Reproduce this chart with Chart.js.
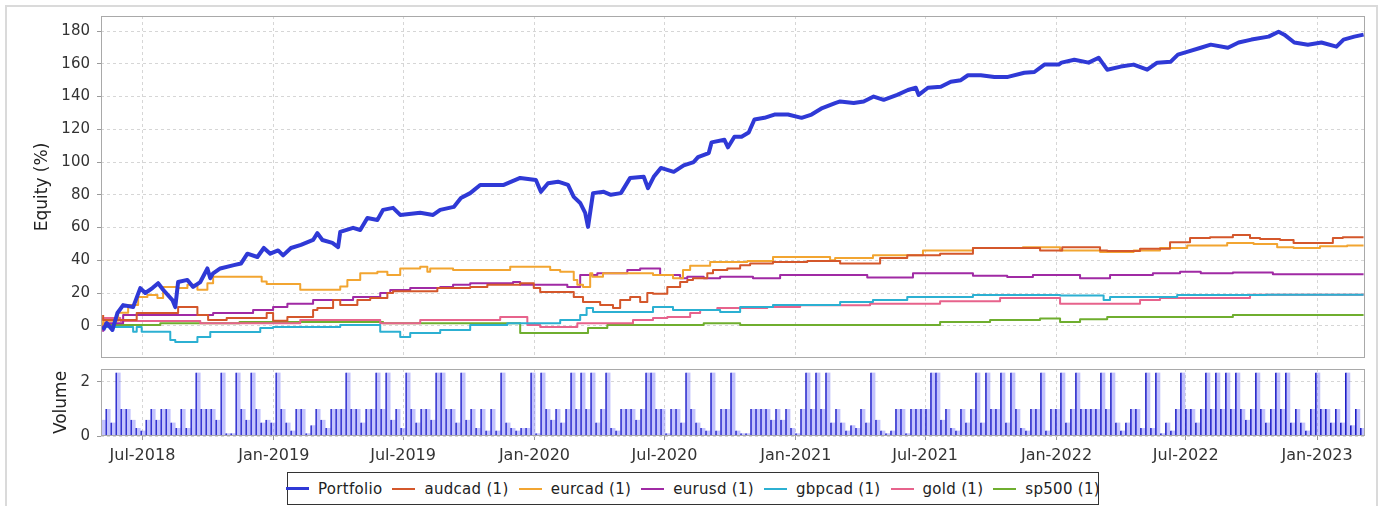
<!DOCTYPE html>
<html>
<head>
<meta charset="utf-8">
<title>Equity</title>
<script src="https://cdn.jsdelivr.net/npm/chart.js@4.4.0/dist/chart.umd.min.js"></script>
<style>
    html, body { margin: 0; padding: 0; background: #fff; overflow: hidden; }
    #frame { position: absolute; left: 5px; top: 5px; width: 1373px; height: 530px; border: 2px solid #dadada; box-sizing: border-box; }
    #equityChart { position: absolute; left: 0; top: 0; }
    #volumeChart { position: absolute; left: 0; top: 362px; }
    #legend {
        position: absolute; left: 287px; top: 472px; width: 812px; height: 33px;
        border: 1px solid #333; box-sizing: border-box; background: #fff;
        display: flex; align-items: center; justify-content: center;
        font-family: 'DejaVu Sans', sans-serif; font-size: 15px; letter-spacing: 0.3px; color: #222;
    }
    #legend .item { display: flex; align-items: center; margin-left: 10px; white-space: nowrap; }
    #legend .item:first-child { margin-left: 0; }
    #legend .swatch { display: inline-block; width: 23px; margin-right: 9px; }
</style>
</head>
<body>
<div id="frame"></div>
<canvas id="equityChart" width="1384" height="362"></canvas>
<canvas id="volumeChart" width="1384" height="110"></canvas>
<div id="legend"></div>

<script>
// ---- data ----
const MONTH_NAMES = ['Jan', 'Feb', 'Mar', 'Apr', 'May', 'Jun', 'Jul', 'Aug', 'Sep', 'Oct', 'Nov', 'Dec'];
const X_TICK_MONTHS = [0, 6];           // Jan and Jul
const EQUITY_TICKS = [0, 20, 40, 60, 80, 100, 120, 140, 160, 180];
const VOLUME_TICKS = [0, 2];

const portfolioDates = [
    '2018-05-07', '2018-05-12', '2018-05-20', '2018-05-27', '2018-06-04', '2018-06-18', '2018-06-28', '2018-07-05',
    '2018-07-15', '2018-07-23', '2018-07-30', '2018-08-12', '2018-08-16', '2018-08-20', '2018-09-02', '2018-09-10',
    '2018-09-20', '2018-09-30', '2018-10-04', '2018-10-08', '2018-10-18', '2018-11-06', '2018-11-16', '2018-11-25',
    '2018-12-09', '2018-12-18', '2018-12-27', '2019-01-07', '2019-01-14', '2019-01-25', '2019-02-08', '2019-02-25',
    '2019-03-03', '2019-03-10', '2019-03-24', '2019-04-01', '2019-04-04', '2019-04-22', '2019-05-02', '2019-05-12',
    '2019-05-26', '2019-06-03', '2019-06-17', '2019-06-27', '2019-07-25', '2019-08-12', '2019-08-22', '2019-09-10',
    '2019-09-20', '2019-10-03', '2019-10-17', '2019-11-19', '2019-12-12', '2020-01-03', '2020-01-10', '2020-01-20',
    '2020-02-03', '2020-02-17', '2020-02-25', '2020-03-05', '2020-03-12', '2020-03-16', '2020-03-23', '2020-04-07',
    '2020-04-17', '2020-05-01', '2020-05-14', '2020-06-02', '2020-06-08', '2020-06-16', '2020-06-26', '2020-07-14',
    '2020-07-28', '2020-08-11', '2020-08-17', '2020-09-01', '2020-09-05', '2020-09-23', '2020-09-28', '2020-10-07',
    '2020-10-17', '2020-10-27', '2020-11-04', '2020-11-18', '2020-12-02', '2020-12-21', '2021-01-09', '2021-01-23',
    '2021-02-07', '2021-02-25', '2021-03-04', '2021-03-23', '2021-04-06', '2021-04-20', '2021-05-04', '2021-05-23',
    '2021-06-07', '2021-06-18', '2021-06-22', '2021-07-05', '2021-07-23', '2021-08-06', '2021-08-20', '2021-08-30',
    '2021-09-17', '2021-10-06', '2021-10-25', '2021-11-17', '2021-12-01', '2021-12-15', '2022-01-04', '2022-01-08',
    '2022-01-26', '2022-02-15', '2022-03-01', '2022-03-06', '2022-03-13', '2022-04-01', '2022-04-19', '2022-05-08',
    '2022-05-22', '2022-06-10', '2022-06-20', '2022-07-04', '2022-07-22', '2022-08-05', '2022-08-29', '2022-09-13',
    '2022-10-01', '2022-10-25', '2022-11-08', '2022-11-16', '2022-11-30', '2022-12-19', '2023-01-07', '2023-01-28',
    '2023-02-07', '2023-02-22', '2023-03-07'
];
const portfolioValues = [
    -2.6, 1.6, -2.6, 7.8, 12.6, 11.4, 23, 20,
    23, 26, 22, 15.7, 11.4, 26.7, 28, 23.7,
    26.7, 35, 29, 32, 35, 37, 38, 44,
    42, 47.5, 44, 46, 43, 47.5, 49.4, 52.4,
    56.6, 52.4, 50.6, 48, 57.3, 59.8, 58.5, 65.8,
    64.6, 70.8, 72, 67.7, 69, 67.7, 70.8, 72.6,
    78, 81, 86, 86, 90.3, 89, 81.8, 87,
    88, 86, 78.7, 75, 69, 60.4, 81, 81.8,
    80, 81, 90.3, 91, 84, 91, 96.4, 94,
    98, 100, 103, 105.5, 112, 113.6, 109, 115.4,
    115.4, 118, 126, 127, 129, 129, 127, 129,
    133, 136, 137, 136, 137, 140, 138, 141,
    144, 145.4, 141, 145.4, 146, 149, 150, 153,
    153, 152, 152, 154.5, 155, 159.5, 159.5, 160.7,
    162.5, 160.7, 163.7, 160.7, 156.4, 158.3, 159.5, 156.4,
    160.7, 161.3, 165.6, 167.4, 169.8, 171.7, 169.8, 173,
    174.8, 176.6, 179.6, 177.8, 173, 171.7, 173, 170.5,
    174.8, 176.6, 177.8
];

const audcadDates = [
    '2018-05-07', '2018-06-23', '2018-08-20', '2018-09-16', '2018-10-01', '2018-10-27', '2018-12-22', '2018-12-31',
    '2019-01-20', '2019-02-25', '2019-03-03', '2019-03-25', '2019-04-04', '2019-04-28', '2019-05-16', '2019-06-09',
    '2019-06-17', '2019-08-18', '2019-10-03', '2019-10-27', '2019-12-12', '2019-12-31', '2020-01-09', '2020-02-25',
    '2020-03-09', '2020-04-02', '2020-04-20', '2020-04-30', '2020-05-14', '2020-05-28', '2020-06-07', '2020-06-15',
    '2020-07-05', '2020-07-23', '2020-08-02', '2020-08-10', '2020-08-30', '2020-09-07', '2020-09-27', '2020-10-15',
    '2020-10-29', '2020-11-30', '2021-01-17', '2021-03-04', '2021-04-29', '2021-06-06', '2021-07-22', '2021-09-06',
    '2021-12-09', '2022-01-09', '2022-03-03', '2022-03-13', '2022-04-28', '2022-06-09', '2022-07-07', '2022-08-04',
    '2022-09-05', '2022-09-29', '2022-10-13', '2022-11-10', '2022-11-29', '2023-01-23', '2023-02-06', '2023-03-07'
];
const audcadValues = [
    6.5, 3.5, 7.8, 11.4, 6.5, 3.5, 4.7, 7.8,
    3, 5.3, 9.6, 10.8, 15.7, 12.6, 15.7, 17,
    20, 21, 23, 23.7, 25, 26, 23, 20.6,
    17.6, 14.5, 12.6, 10.8, 15.7, 17.6, 14.5, 20,
    19.5, 23.7, 26.7, 28, 29, 32, 34, 35,
    37, 38, 39, 39.5, 38, 41.4, 43, 44,
    47.5, 46, 48, 46, 45.6, 47, 51, 53.6,
    54, 55.4, 53.6, 53, 52.4, 50.6, 53.6, 54
];

const eurcadDates = [
    '2018-05-07', '2018-05-28', '2018-06-11', '2018-06-25', '2018-07-08', '2018-07-22', '2018-07-30', '2018-08-19',
    '2018-09-02', '2018-09-16', '2018-09-30', '2018-10-08', '2018-12-15', '2018-12-22', '2019-02-07', '2019-04-04',
    '2019-04-14', '2019-05-02', '2019-05-26', '2019-06-09', '2019-06-27', '2019-07-25', '2019-08-04', '2019-08-08',
    '2019-09-09', '2019-11-28', '2020-01-23', '2020-02-06', '2020-02-25', '2020-03-01', '2020-03-09', '2020-03-19',
    '2020-03-22', '2020-04-06', '2020-06-15', '2020-07-13', '2020-07-27', '2020-08-06', '2020-09-03', '2020-10-25',
    '2020-11-30', '2021-02-18', '2021-02-25', '2021-04-19', '2021-06-28', '2021-09-06', '2021-11-15', '2022-01-06',
    '2022-03-03', '2022-04-19', '2022-05-26', '2022-07-03', '2022-08-28', '2022-10-04', '2022-11-06', '2022-11-29',
    '2023-01-05', '2023-02-12', '2023-03-07'
];
const eurcadValues = [
    0, 3, 8, 12.6, 17.6, 18.8, 17, 23.7,
    23, 25, 22, 26, 30, 27, 25.5, 22,
    24, 28, 32, 33, 31, 35, 36, 33,
    35, 34, 36, 34, 33, 28, 25, 23.7,
    32, 30, 32, 31, 29, 34, 36.6, 39,
    39.5, 42, 40, 41.4, 43, 46, 47.5, 48,
    46, 45, 46, 47.5, 49, 50.6, 50, 48,
    47.5, 48.6, 49
];

const eurusdDates = [
    '2018-05-07', '2018-06-04', '2018-10-08', '2018-12-03', '2018-12-31', '2019-01-20', '2019-02-25', '2019-04-22',
    '2019-05-30', '2019-06-13', '2019-07-11', '2019-08-22', '2019-09-09', '2019-10-03', '2019-12-02', '2019-12-12',
    '2020-02-16', '2020-03-05', '2020-03-29', '2020-05-10', '2020-05-28', '2020-06-25', '2020-07-23', '2020-08-02',
    '2020-08-25', '2020-09-17', '2020-11-02', '2020-12-10', '2021-04-11', '2021-06-14', '2021-09-06', '2021-10-24',
    '2021-11-29', '2022-02-03', '2022-03-17', '2022-05-16', '2022-06-23', '2022-07-22', '2022-09-05', '2022-10-31',
    '2023-01-15', '2023-03-07'
];
const eurusdValues = [
    -3.7, 1.6, 6.5, 7.8, 9.6, 11.4, 13.5, 15.7,
    17.6, 20, 21.8, 23, 23.7, 25, 26, 26.7,
    25, 23.7, 31, 32, 34, 35, 31, 29,
    30, 29, 30, 29, 31, 29.5, 32, 30.5,
    29.7, 31, 29, 31, 32, 33, 32, 32.5,
    31.5, 31.5
];

const gbpcadDates = [
    '2018-05-07', '2018-06-18', '2018-06-23', '2018-06-30', '2018-08-09', '2018-08-16', '2018-09-16', '2018-10-04',
    '2018-12-13', '2018-12-31', '2019-04-04', '2019-05-30', '2019-06-27', '2019-07-11', '2019-08-22', '2019-10-03',
    '2019-11-24', '2020-02-06', '2020-03-05', '2020-03-14', '2020-03-23', '2020-06-15', '2020-07-13', '2020-09-17',
    '2020-10-15', '2020-11-30', '2021-03-04', '2021-04-19', '2021-06-06', '2021-09-06', '2022-01-06', '2022-03-08',
    '2022-03-17', '2022-06-19', '2022-10-22', '2023-03-07'
];
const gbpcadValues = [
    0.4, -0.7, -3.7, -0.7, -3.7, -8.7, -9.9, -6.9,
    -3.8, -1.4, -0.7, 0.4, -3.7, -6.9, -4.5, -2.6,
    0.4, 1.6, 3.5, 6.5, 10.8, 8.4, 11.4, 9.6,
    8.4, 11.4, 12.6, 14.5, 15.7, 17.6, 18.8, 18.5,
    15.7, 17.6, 18.8, 19
];

const goldDates = [
    '2018-05-07', '2018-05-31', '2018-09-20', '2019-02-07', '2019-05-30', '2019-07-25', '2019-11-14', '2019-12-22',
    '2020-01-09', '2020-03-01', '2020-05-18', '2020-06-15', '2020-07-05', '2020-08-06', '2020-08-20', '2020-09-13',
    '2020-11-22', '2021-01-07', '2021-04-15', '2021-07-22', '2021-10-14', '2022-01-06', '2022-04-28', '2022-05-26',
    '2022-09-29', '2023-03-07'
];
const goldValues = [
    3, 4.7, 2.9, 1.6, 3.5, 1.6, 3.5, 5.3,
    0.4, -0.7, 1.6, 3.5, 4.7, 5.3, 7.8, 9.6,
    10.8, 11.4, 12.5, 13.5, 15, 17, 13.5, 15.7,
    17, 19
];

const sp500Dates = [
    '2018-05-07', '2018-07-26', '2018-11-14', '2019-06-03', '2019-12-12', '2020-03-16', '2020-04-12', '2020-08-25',
    '2020-10-15', '2021-07-22', '2021-09-30', '2021-12-09', '2022-01-06', '2022-02-03', '2022-03-13', '2022-09-05',
    '2022-10-31', '2023-03-07'
];
const sp500Values = [
    -0.7, 0.4, 1.6, 2.3, 1.6, -4.5, -1.4, 0.4,
    1.6, 0.4, 2.3, 3.5, 4.5, 2.3, 4, 5.3,
    6.5, 6.5
];

// weekly volume, first bar in the week of 2018-05-07
const volumeStart = '2018-05-07';
const volumeValues = [
    0.6, 1, 0.5, 2.35, 1, 1, 0.6, 0.3, 0.2, 0.6, 1, 0.6, 1, 1, 0.5, 0.3, 1, 0.3, 1, 2.35,
    1, 1, 1, 0.6, 2.35, 0.1, 0.1, 2.35, 1, 0.6, 2.35, 1, 0.5, 0.6, 0.5, 2.35, 1, 0.5, 0.2, 1,
    1, 0.1, 0.4, 1, 0.6, 0.3, 1, 1, 1, 2.35, 1, 1, 0.5, 1, 1, 2.35, 1, 2.35, 0.6, 1,
    0.3, 2.35, 1, 0.5, 1, 1, 0.6, 2.35, 2.35, 1, 1, 0.5, 2.35, 0.6, 1, 0.3, 1, 0.2, 1, 0.2,
    2.35, 0.5, 0.3, 0.2, 0.3, 0.3, 2.35, 0.1, 2.35, 1, 0.6, 1, 0.5, 1, 2.35, 1, 2.35, 1, 2.35, 0.5,
    1, 2.35, 0.3, 0.2, 1, 1, 1, 0.6, 1, 2.35, 2.35, 1, 1, 0.1, 1, 1, 0.5, 2.35, 1, 0.5,
    0.3, 0.2, 2.35, 0.2, 1, 1, 2.35, 0.2, 0.1, 0.1, 1, 1, 1, 1, 0.6, 1, 0.6, 1, 0.3, 0.1,
    1, 2.35, 1, 2.35, 1, 2.35, 0.5, 1, 0.5, 0.2, 0.4, 0.3, 1, 0.5, 2.35, 0.6, 0.2, 0.1, 0.2, 1,
    1, 0.1, 1, 1, 1, 1, 2.35, 2.35, 0.6, 1, 0.3, 0.2, 1, 0.5, 1, 2.35, 0.5, 2.35, 1, 1,
    2.35, 0.5, 2.35, 1, 0.3, 0.2, 1, 1, 2.35, 0.2, 1, 1, 2.35, 0.5, 1, 2.35, 1, 1, 1, 1,
    2.35, 1, 2.35, 0.5, 0.2, 0.5, 1, 1, 0.3, 2.35, 0.3, 2.35, 0.1, 0.5, 0.2, 1, 2.35, 1, 1, 0.5,
    1, 2.35, 1, 2.35, 1, 2.35, 1, 2.35, 1, 0.6, 1, 2.35, 1, 0.5, 1, 2.35, 1, 2.35, 0.5, 1,
    0.5, 0.2, 1, 2.35, 1, 1, 0.5, 1, 0.5, 2.35, 0.4, 1, 0.3
];

const seriesNames = ['Portfolio', 'audcad (1)', 'eurcad (1)', 'eurusd (1)', 'gbpcad (1)', 'gold (1)', 'sp500 (1)'];
const seriesColors = ['#2f39d6', '#d4572b', '#f2a531', '#a02aa4', '#2cb0d2', '#e7638c', '#6fae2f'];

// ---- helpers ----
const X_MIN = Date.UTC(2018, 4, 4);
const X_MAX = Date.UTC(2023, 2, 9);
const DAY = 86400000;
const TICK_FONT = { family: "'DejaVu Sans', sans-serif", size: 15 };
const TITLE_FONT = { family: "'DejaVu Sans', sans-serif", size: 17 };

function toPoints(dates, values) {
    return dates.map((d, i) => ({ x: Date.parse(d), y: values[i] }));
}

function halfYearTicks(scale) {
    const ticks = [];
    for (let y = 2018; y <= 2023; y++) {
        X_TICK_MONTHS.forEach(m => {
            const v = Date.UTC(y, m, 1);
            if (v >= scale.min && v <= scale.max) ticks.push({ value: v });
        });
    }
    scale.ticks = ticks;
}

function formatMonth(v) {
    const d = new Date(v);
    return MONTH_NAMES[d.getUTCMonth()] + '-' + d.getUTCFullYear();
}

function fixedTicks(list) {
    return scale => { scale.ticks = list.map(v => ({ value: v })); };
}

// frame round the plot area
const plotFrame = {
    id: 'plotFrame',
    afterDatasetsDraw(chart) {
        const { ctx, chartArea: a } = chart;
        ctx.save();
        ctx.strokeStyle = '#a9a9a9';
        ctx.lineWidth = 1;
        ctx.strokeRect(a.left + 0.5, a.top + 0.5, a.right - a.left - 1, a.bottom - a.top - 1);
        ctx.restore();
    }
};

function xAxis(showLabels, height) {
    return {
        type: 'linear',
        min: X_MIN,
        max: X_MAX,
        offset: false,
        afterBuildTicks: halfYearTicks,
        afterFit: s => { s.height = height; s.paddingLeft = 0; s.paddingRight = 0; },
        grid: { offset: false, color: '#d6d6d6', drawTicks: showLabels, tickLength: 4, tickColor: '#999' },
        border: { display: false, dash: [3, 3] },
        ticks: {
            display: showLabels,
            autoSkip: false,
            maxRotation: 0,
            padding: 6,
            color: '#333',
            font: { family: "'DejaVu Sans', sans-serif", size: 16 },
            callback: formatMonth
        }
    };
}

function yAxis(min, max, tickList, title, titlePad) {
    return {
        min: min,
        max: max,
        afterBuildTicks: fixedTicks(tickList),
        afterFit: s => { s.width = 101; s.paddingTop = 0; s.paddingBottom = 0; },
        grid: { color: '#d6d6d6', tickLength: 4, tickColor: '#999' },
        border: { display: false, dash: [3, 3] },
        ticks: { padding: 7, color: '#333', font: TICK_FONT },
        title: { display: true, text: title, color: '#222', font: TITLE_FONT, padding: { top: titlePad, bottom: 0 } }
    };
}

// ---- equity chart ----
const seriesData = [
    [portfolioDates, portfolioValues],
    [audcadDates, audcadValues],
    [eurcadDates, eurcadValues],
    [eurusdDates, eurusdValues],
    [gbpcadDates, gbpcadValues],
    [goldDates, goldValues],
    [sp500Dates, sp500Values]
];

const equityDatasets = seriesData.map(([dates, values], i) => ({
    label: seriesNames[i],
    data: toPoints(dates, values),
    borderColor: seriesColors[i],
    borderWidth: i === 0 ? 4 : 2,
    pointRadius: 0,
    tension: 0,
    stepped: i === 0 ? false : 'after',
    borderJoinStyle: 'round'
}));

new Chart(document.getElementById('equityChart'), {
    type: 'line',
    data: { datasets: equityDatasets },
    options: {
        responsive: false,
        animation: false,
        events: [],
        layout: { padding: { left: 0, right: 19, top: 16, bottom: 0 } },
        plugins: { legend: { display: false }, tooltip: { enabled: false } },
        scales: {
            x: xAxis(false, 4),
            y: yAxis(-19.7, 189.2, EQUITY_TICKS, 'Equity (%)', 32)
        }
    },
    plugins: [plotFrame]
});

// ---- volume chart ----
const volumeStartMs = Date.parse(volumeStart);
const volumePoints = volumeValues.map((v, i) => ({ x: volumeStartMs + i * 7 * DAY, y: v }));

new Chart(document.getElementById('volumeChart'), {
    type: 'bar',
    data: {
        datasets: [{
            label: 'Volume',
            data: volumePoints,
            backgroundColor: 'rgba(105, 105, 250, 0.4)',
            borderColor: '#1818c2',
            borderWidth: { left: 1, right: 0, top: 0, bottom: 0 },
            borderSkipped: false,
            barThickness: 5
        }]
    },
    options: {
        responsive: false,
        animation: false,
        events: [],
        layout: { padding: { left: 0, right: 19, top: 7, bottom: 0 } },
        plugins: { legend: { display: false }, tooltip: { enabled: false } },
        scales: {
            x: xAxis(true, 36),
            y: yAxis(0, 2.48, VOLUME_TICKS, 'Volume', 51)
        }
    },
    plugins: [plotFrame]
});

// ---- legend ----
const legendEl = document.getElementById('legend');
seriesNames.forEach((name, i) => {
    const item = document.createElement('span');
    item.className = 'item';
    const swatch = document.createElement('span');
    swatch.className = 'swatch';
    swatch.style.borderTop = (i === 0 ? 3 : 2) + 'px solid ' + seriesColors[i];
    item.appendChild(swatch);
    item.appendChild(document.createTextNode(name));
    legendEl.appendChild(item);
});
</script>
</body>
</html>
